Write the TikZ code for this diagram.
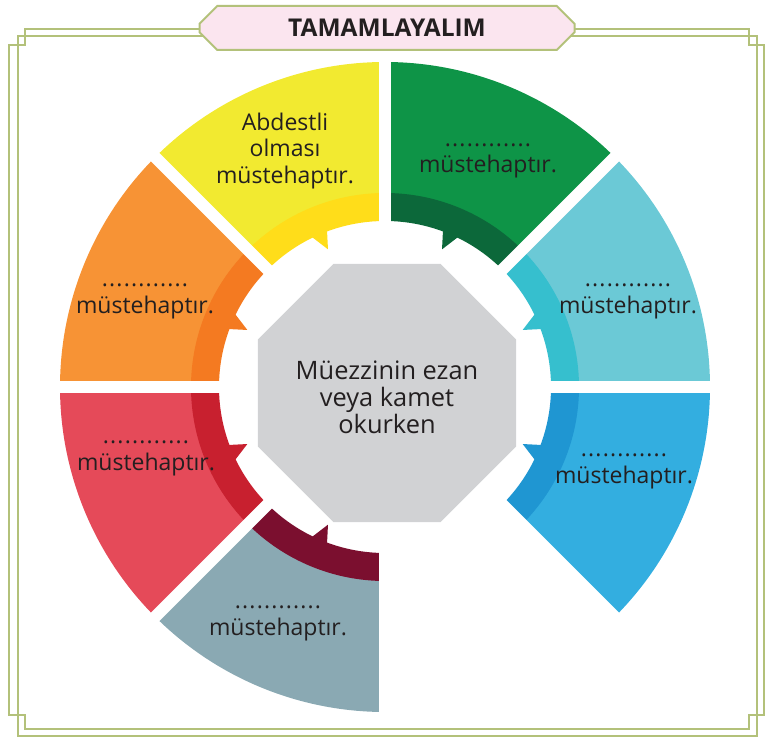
\documentclass[tikz,border=0pt]{standalone}
\usepackage{fontspec}
\setmainfont{Open Sans}
\usetikzlibrary{shapes.geometric,shapes.misc}

\definecolor{frameline}{RGB}{179,193,122}
\definecolor{titlefill}{RGB}{251,229,239}
\definecolor{ink}{RGB}{35,31,32}
\definecolor{octgrey}{RGB}{209,210,212}
\definecolor{yellowA}{RGB}{242,234,48}
\definecolor{yellowB}{RGB}{255,221,26}
\definecolor{greenA}{RGB}{14,148,71}
\definecolor{greenB}{RGB}{12,104,58}
\definecolor{cyanA}{RGB}{107,201,214}
\definecolor{cyanB}{RGB}{54,191,206}
\definecolor{blueA}{RGB}{51,174,224}
\definecolor{blueB}{RGB}{31,150,210}
\definecolor{slateA}{RGB}{138,169,179}
\definecolor{slateB}{RGB}{123,15,47}
\definecolor{redA}{RGB}{229,74,89}
\definecolor{redB}{RGB}{200,32,47}
\definecolor{orangeA}{RGB}{247,147,53}
\definecolor{orangeB}{RGB}{244,122,33}

\newcommand\dotline{{\addfontfeature{LetterSpace=5}............}}

\begin{document}
\begin{tikzpicture}[x=1pt,y=1pt,
  frame/.style={draw=frameline, line width=2pt},
  gap/.style={draw=white, line width=12pt},
  seglabel/.style={font=\fontsize{23}{26.5}\selectfont, text=ink, align=center, anchor=base}]
\useasboundingbox (0,0) rectangle (767,737);

% Frame
\draw[frame] (24.8,707.5) -- (749,707.5) -- (749,692.2) -- (764,692.2) -- (764,21.7)
  -- (749,21.7) -- (749,8) -- (24.8,8) -- (24.8,21.7) -- (9.2,21.7) -- (9.2,692.2)
  -- (24.8,692.2) -- cycle;
\draw[frame] (17.5,1.5) rectangle (756.5,700.5);

% Title
\node[chamfered rectangle, chamfered rectangle xsep=9pt, chamfered rectangle ysep=9pt,
  fill=titlefill, draw=frameline, line width=2pt, minimum width=375pt, minimum height=44pt,
  inner sep=0pt, text=ink, font=\bfseries\fontsize{24.5}{28}\selectfont] (title) at (387,709) {TAMAMLAYALIM};

% Ring
\begin{scope}[shift={(385,350)}]
\foreach \a/\cA/\cB/\s in {0/cyanA/cyanB/1, 45/greenA/greenB/-1, 90/yellowA/yellowB/1,
    135/orangeA/orangeB/-1, 180/redA/redB/1, 225/slateA/slateB/-1, 315/blueA/blueB/-1} {
  \pgfmathsetmacro\b{\a+45}
  \pgfmathsetmacro\m{\a+22.5}
  \pgfmathsetmacro\e{\m-2.5*\s}
  \pgfmathsetmacro\f{\m+4*\s}
  \fill[\cA] (\a:193pt) arc[start angle=\a, end angle=\b, radius=193pt]
    -- (\b:325pt) arc[start angle=\b, end angle=\a, radius=325pt] -- cycle;
  \fill[\cB] (\a:166pt) arc[start angle=\a, end angle=\b, radius=166pt]
    -- (\b:194pt) arc[start angle=\b, end angle=\a, radius=194pt] -- cycle;
  \fill[\cB] (\m:149pt) -- (\e:170pt) -- (\f:170pt) -- cycle;
}
% white gaps
\foreach \g in {0,45,...,315}
  \draw[gap] (\g:140pt) -- (\g:335pt);
\end{scope}

% Centre
\node[regular polygon, regular polygon sides=8, minimum size=277pt, inner sep=0pt,
  fill=octgrey, text=ink, align=center, text height=80pt, text depth=0pt,
  font=\fontsize{25.4}{27}\selectfont] (core) at (387,344)
  {Müezzinin ezan\\veya kamet\\okurken};

% Labels
\node[seglabel] (yellowtxt) at (285,553.7) {Abdestli\\olması\\müstehaptır.};
\node[seglabel] (greentxt) at (488,564) {\dotline\\müstehaptır.};
\node[seglabel] (cyantxt) at (628,424) {\dotline\\müstehaptır.};
\node[seglabel] (bluetxt) at (624,254) {\dotline\\müstehaptır.};
\node[seglabel] (slatetxt) at (278,102) {\dotline\\müstehaptır.};
\node[seglabel] (redtxt) at (146,267) {\dotline\\müstehaptır.};
\node[seglabel] (orangetxt) at (145,424) {\dotline\\müstehaptır.};
\end{tikzpicture}
\end{document}
